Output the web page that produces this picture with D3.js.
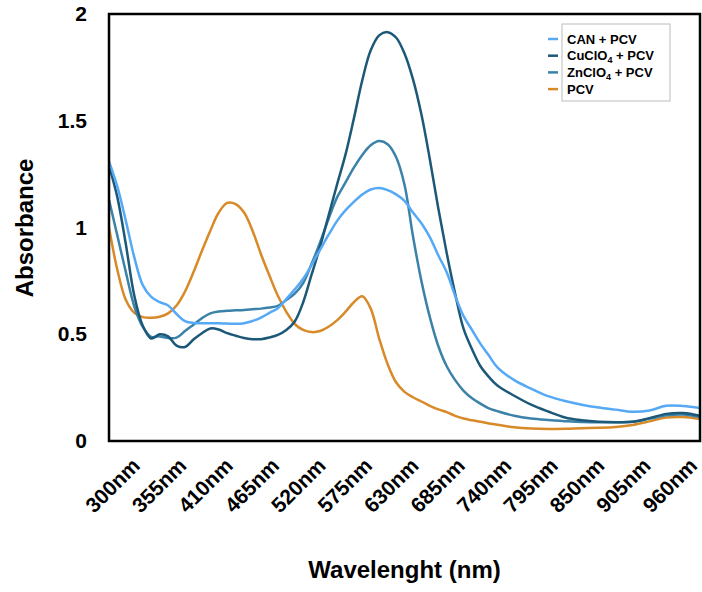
<!DOCTYPE html>
<html>
<head>
<meta charset="utf-8">
<script src="https://cdn.jsdelivr.net/npm/d3@7"></script>
<style>
    body { margin: 0; background: #fff; }
</style>
</head>
<body>
<div id="chart"></div>
<script>
// Absorption spectra, values
const wavelengths = [260, 270, 280, 290, 300, 310, 320, 330, 340, 350, 360, 370, 380, 390, 400, 410, 420, 430, 440, 450,
    460, 470, 480, 490, 500, 510, 520, 530, 540, 550, 560, 570, 580, 590, 600, 610, 620, 630, 640, 650,
    660, 670, 680, 690, 700, 710, 720, 740, 760, 780, 800, 820, 840, 860, 880, 900, 920, 940, 960];

const canPcv = [1.31, 1.19, 1.03, 0.86, 0.73, 0.675, 0.65, 0.635, 0.595, 0.562, 0.553, 0.552, 0.552, 0.551, 0.55, 0.549, 0.552, 0.562, 0.578, 0.60,
    0.622, 0.665, 0.71, 0.76, 0.825, 0.895, 0.965, 1.03, 1.08, 1.12, 1.155, 1.178, 1.185, 1.175, 1.155, 1.125, 1.07, 1.02, 0.955, 0.87,
    0.79, 0.68, 0.585, 0.52, 0.455, 0.40, 0.345, 0.285, 0.245, 0.21, 0.187, 0.17, 0.157, 0.147, 0.137, 0.143, 0.165, 0.164, 0.155];

const cuPcv = [1.29, 1.14, 0.92, 0.68, 0.54, 0.48, 0.50, 0.49, 0.447, 0.44, 0.475, 0.505, 0.527, 0.522, 0.505, 0.493, 0.482, 0.477, 0.477, 0.485,
    0.497, 0.52, 0.56, 0.65, 0.78, 0.91, 1.055, 1.20, 1.34, 1.51, 1.69, 1.83, 1.90, 1.915, 1.89, 1.815, 1.695, 1.53, 1.32, 1.09,
    0.88, 0.69, 0.525, 0.43, 0.35, 0.30, 0.26, 0.212, 0.17, 0.138, 0.11, 0.097, 0.09, 0.088, 0.09, 0.107, 0.127, 0.131, 0.118];

const znPcv = [1.13, 0.96, 0.79, 0.63, 0.535, 0.488, 0.49, 0.482, 0.484, 0.515, 0.545, 0.575, 0.598, 0.607, 0.61, 0.612, 0.614, 0.617, 0.62, 0.625,
    0.633, 0.66, 0.69, 0.74, 0.83, 0.93, 1.04, 1.14, 1.21, 1.28, 1.34, 1.385, 1.405, 1.39, 1.33, 1.20, 0.96, 0.75, 0.58, 0.445,
    0.35, 0.285, 0.235, 0.20, 0.175, 0.153, 0.14, 0.118, 0.105, 0.098, 0.093, 0.089, 0.088, 0.088, 0.09, 0.104, 0.12, 0.124, 0.112];

const pcv = [1.00, 0.80, 0.66, 0.60, 0.58, 0.577, 0.582, 0.598, 0.635, 0.70, 0.79, 0.89, 0.985, 1.07, 1.115, 1.11, 1.07, 0.985, 0.875, 0.775,
    0.68, 0.605, 0.548, 0.52, 0.51, 0.515, 0.535, 0.565, 0.605, 0.65, 0.678, 0.62, 0.48, 0.36, 0.275, 0.23, 0.205, 0.185, 0.165, 0.148,
    0.135, 0.118, 0.105, 0.097, 0.09, 0.082, 0.076, 0.064, 0.058, 0.056, 0.057, 0.06, 0.062, 0.066, 0.075, 0.092, 0.11, 0.112, 0.103];

const xTickValues = [300, 355, 410, 465, 520, 575, 630, 685, 740, 795, 850, 905, 960];
const yTickValues = [0, 0.5, 1, 1.5, 2];

const seriesNames = ["CAN + PCV", "CuClO4 + PCV", "ZnClO4 + PCV", "PCV"];
const seriesColors = ["#55a9f5", "#1c5878", "#3a82a8", "#d88a28"];

class SpectraChart {
    constructor(element) {
        this.element = element;
        this.initVis();
    }

    initVis() {
        const vis = this;
        const font = "'Liberation Sans', Arial, Helvetica, sans-serif";

        vis.margin = { top: 14, right: 2, bottom: 151, left: 109 };
        vis.width = 702 - vis.margin.left - vis.margin.right;
        vis.height = 592 - vis.margin.top - vis.margin.bottom;

        vis.svg = d3.select("#" + vis.element).append("svg")
            .attr("width", 702)
            .attr("height", 592)
            .append("g")
            .attr("transform", `translate(${vis.margin.left},${vis.margin.top})`);

        vis.x = d3.scaleLinear()
            .domain([260, 960])
            .range([0, vis.width]);

        vis.y = d3.scaleLinear()
            .domain([0, 2])
            .range([vis.height, 0]);

        // Series in drawing order (CAN on top)
        const series = [
            { name: seriesNames[3], color: seriesColors[3], values: pcv },
            { name: seriesNames[2], color: seriesColors[2], values: znPcv },
            { name: seriesNames[1], color: seriesColors[1], values: cuPcv },
            { name: seriesNames[0], color: seriesColors[0], values: canPcv }
        ];

        const line = d3.line()
            .x((d, i) => vis.x(wavelengths[i]))
            .y(d => vis.y(d))
            .curve(d3.curveCatmullRom.alpha(0.5));

        vis.svg.selectAll(".spectrum")
            .data(series)
            .enter().append("path")
            .attr("class", "spectrum")
            .attr("d", d => line(d.values))
            .attr("fill", "none")
            .attr("stroke", d => d.color)
            .attr("stroke-width", 2.5)
            .attr("stroke-linejoin", "round");

        // Plot frame
        vis.svg.append("rect")
            .attr("width", vis.width)
            .attr("height", vis.height)
            .attr("fill", "none")
            .attr("stroke", "#000")
            .attr("stroke-width", 2.5);

        // X axis, rotated labels
        const xAxis = vis.svg.append("g")
            .attr("transform", `translate(0, ${vis.height})`)
            .call(d3.axisBottom(vis.x).tickValues(xTickValues).tickSize(0).tickFormat(d => d + "nm"));
        xAxis.select(".domain").remove();
        xAxis.selectAll("text")
            .attr("x", 0)
            .attr("y", 0)
            .attr("dy", 0)
            .attr("transform", "translate(-2, 26) rotate(-45)")
            .style("text-anchor", "end")
            .style("font-size", "21px")
            .style("font-weight", "bold")
            .style("font-family", font)
            .style("fill", "#000");

        // Y axis
        const yAxis = vis.svg.append("g")
            .call(d3.axisLeft(vis.y).tickValues(yTickValues).tickSize(0).tickPadding(22).tickFormat(d => d));
        yAxis.select(".domain").remove();
        yAxis.selectAll("text")
            .style("font-size", "21px")
            .style("font-weight", "bold")
            .style("font-family", font)
            .style("fill", "#000");

        // Axis titles
        vis.svg.append("text")
            .attr("x", vis.width / 2)
            .attr("y", 578 - vis.margin.top)
            .style("text-anchor", "middle")
            .style("font-size", "24px")
            .style("font-weight", "bold")
            .style("font-family", font)
            .text("Wavelenght (nm)");

        vis.svg.append("text")
            .attr("transform", `translate(${33 - vis.margin.left}, ${228 - vis.margin.top}) rotate(-90)`)
            .style("text-anchor", "middle")
            .style("font-size", "24px")
            .style("font-weight", "bold")
            .style("font-family", font)
            .text("Absorbance");

        // Legend
        const legend = vis.svg.append("g")
            .attr("transform", `translate(${562 - vis.margin.left}, ${24 - vis.margin.top})`);

        legend.append("rect")
            .attr("width", 108)
            .attr("height", 77)
            .attr("fill", "#fff")
            .attr("stroke", "#bbb")
            .attr("stroke-width", 1);

        seriesNames.forEach((name, i) => {
            const rowY = 15 + i * 16.7;
            legend.append("line")
                .attr("x1", -14)
                .attr("x2", -4)
                .attr("y1", rowY)
                .attr("y2", rowY)
                .attr("stroke", seriesColors[i])
                .attr("stroke-width", 2.5);

            const label = legend.append("text")
                .attr("x", 5)
                .attr("y", rowY + 4.5)
                .style("font-size", "13px")
                .style("font-weight", "bold")
                .style("font-family", font);

            const m = name.match(/^(.*ClO)4(.*)$/);
            if (m) {
                label.append("tspan").text(m[1]);
                label.append("tspan").attr("dy", 3).style("font-size", "9px").text("4");
                label.append("tspan").attr("dy", -3).text(m[2]);
            } else {
                label.text(name);
            }
        });
    }
}

new SpectraChart("chart");
</script>
</body>
</html>
